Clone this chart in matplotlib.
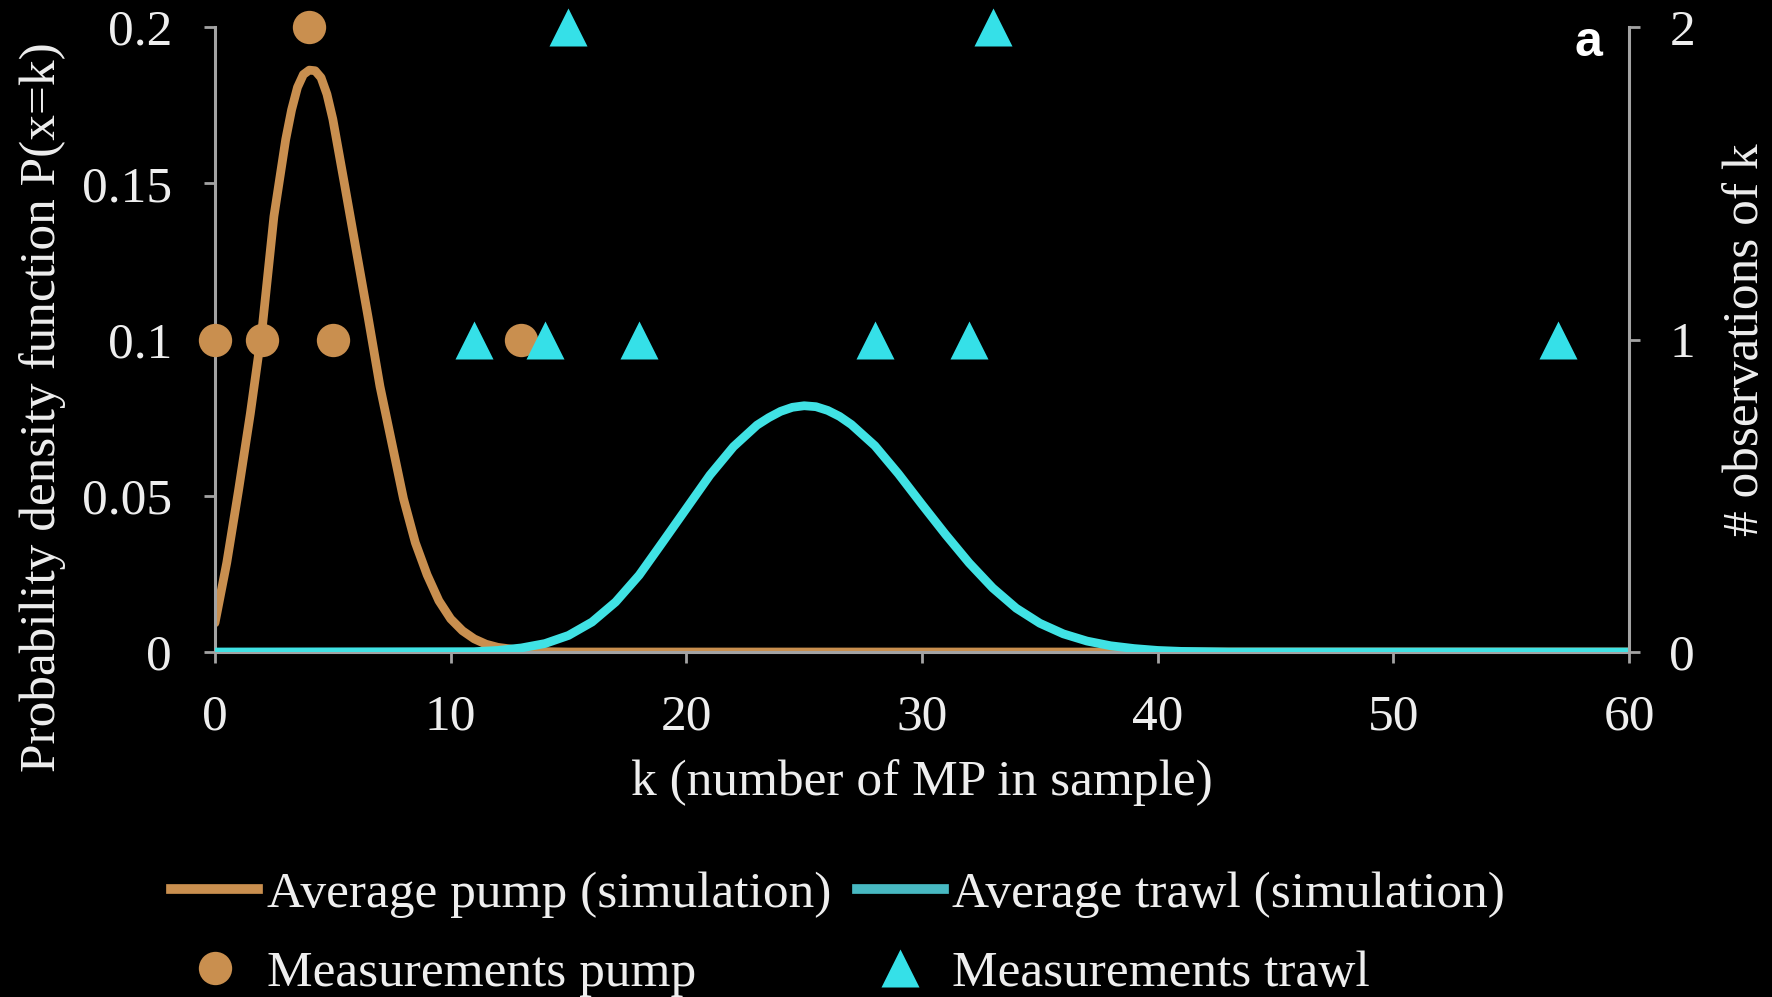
import matplotlib
matplotlib.use("Agg")
import matplotlib.pyplot as plt
from matplotlib.lines import Line2D

# ---- data ----
pump_k = [0, 0.5, 1, 1.5, 2, 2.5, 3, 3.25, 3.5, 3.75, 4, 4.25, 4.5, 4.75, 5, 5.5,
          6, 6.5, 7, 7.5, 8, 8.5, 9, 9.5, 10, 10.5, 11, 11.5, 12, 13, 14, 15, 60]
pump_p = [0.0093, 0.0286, 0.0518, 0.0763, 0.1034, 0.1394, 0.1640, 0.1735, 0.1807,
          0.1848, 0.1862, 0.1860, 0.1838, 0.1785, 0.1705, 0.1495, 0.1282, 0.1070,
          0.0850, 0.0670, 0.0490, 0.0350, 0.0247, 0.0164, 0.0106, 0.0068, 0.0042,
          0.0025, 0.0015, 0.0005, 0.0001, 0.0, 0.0]

trawl_k = [0, 11, 12, 13, 14, 15, 16, 17, 18, 19, 20, 21, 22, 23, 23.5, 24, 24.5,
           25, 25.5, 26, 26.5, 27, 28, 29, 30, 31, 32, 33, 34, 35, 36, 37, 38, 39,
           40, 41, 42, 43, 60]
trawl_p = [0.0, 0.0001, 0.0005, 0.0013, 0.0027, 0.0053, 0.0096, 0.0160, 0.0246,
           0.0352, 0.0459, 0.0566, 0.0657, 0.0726, 0.0750, 0.0770, 0.0783, 0.0788,
           0.0785, 0.0773, 0.0754, 0.0728, 0.0660, 0.0570, 0.0472, 0.0376, 0.0285,
           0.0205, 0.0140, 0.0092, 0.0058, 0.0035, 0.0020, 0.0011, 0.0005, 0.0002,
           0.0001, 0.0, 0.0]

pump_meas_k = [0, 2, 4, 5, 13]
pump_meas_n = [1, 1, 2, 1, 1]
trawl_meas_k = [11, 14, 15, 18, 28, 32, 33, 57]
trawl_meas_n = [1, 1, 2, 1, 1, 1, 2, 1]

x_ticks = [0, 10, 20, 30, 40, 50, 60]
y_ticks = [0, 0.05, 0.1, 0.15, 0.2]
y_tick_labels = ["0", "0.05", "0.1", "0.15", "0.2"]
y2_ticks = [0, 1, 2]

# ---- style ----
BROWN = "#C98F4F"
CYAN = "#40E2E4"
CYAN_TRI = "#35E0E8"
CYAN_LEG = "#48B9C2"
GREY = "#A3A3A3"
TXT = "#EEEEEE"
FS = 37

plt.rcParams["font.family"] = ["Liberation Serif", "DejaVu Serif"]

W, H = 1772, 997
fig = plt.figure(figsize=(W / 100, H / 100), dpi=100, facecolor="black")
ax = fig.add_axes([215 / W, 1 - 652 / H, 1414 / W, 625 / H])
ax.set_facecolor("black")
ax2 = ax.twinx()

ax.plot(pump_k, pump_p, color=BROWN, lw=6.3, solid_capstyle="round",
        solid_joinstyle="round", zorder=2)
ax.plot(trawl_k, trawl_p, color=CYAN, lw=6.3, solid_capstyle="round",
        solid_joinstyle="round", zorder=3)

ax2.plot(pump_meas_k, pump_meas_n, ls="none", marker="o", ms=24, color=BROWN,
         mec="none", clip_on=False, zorder=5)
ax2.plot(trawl_meas_k, trawl_meas_n, ls="none", marker="^", ms=27, color=CYAN_TRI,
         mec="none", clip_on=False, zorder=5)

ax.set_xlim(0, 60)
ax.set_ylim(0, 0.2)
ax2.set_ylim(0, 2)

ax.set_xticks(x_ticks)
ax.set_yticks(y_ticks)
ax.set_yticklabels(y_tick_labels)
ax2.set_yticks(y2_ticks)

for a in (ax, ax2):
    for s in a.spines.values():
        s.set_visible(False)
        s.set_color(GREY)
        s.set_linewidth(2.2)
    a.tick_params(colors=GREY, labelcolor=TXT, labelsize=FS, length=8, width=2,
                  direction="out", pad=23)
ax.spines["left"].set_visible(True)
ax.spines["bottom"].set_visible(True)
ax2.spines["right"].set_visible(True)
ax.tick_params(axis="x", pad=22)
ax2.tick_params(axis="y", pad=21)

ax.set_xlabel("k (number of MP in sample)", fontsize=FS, color=TXT)
ax.xaxis.set_label_coords(0.5, (652 - 783) / 625)
ax.xaxis.label.set_va("center")
ax.set_ylabel("Probability density function P(x=k)", fontsize=FS, color=TXT)
ax.yaxis.set_label_coords((43 - 215) / 1414, (652 - 407) / 625)
ax.yaxis.label.set_va("center")
ax2.set_ylabel("# observations of k", fontsize=FS, color=TXT)
ax2.yaxis.set_label_coords((1746 - 215) / 1414, 0.5)
ax2.yaxis.label.set_va("center")

ax2.text(0.971, 0.974, "a", transform=ax2.transAxes, fontsize=36,
         fontweight="bold", family="Liberation Sans", color="white",
         ha="center", va="center")

handles = [
    Line2D([], [], color=BROWN, lw=7),
    Line2D([], [], ls="none", marker="o", ms=24, color=BROWN, mec="none"),
    Line2D([], [], color=CYAN_LEG, lw=7),
    Line2D([], [], ls="none", marker="^", ms=27, color=CYAN_TRI, mec="none"),
]
labels = ["Average pump (simulation)", "Measurements pump",
          "Average trawl (simulation)", "Measurements trawl"]
leg = fig.legend(handles, labels, ncol=2, loc="center",
                 bbox_to_anchor=(838 / W, 1 - 934 / H), frameon=False,
                 fontsize=FS, labelcolor=TXT, handlelength=1.7,
                 handletextpad=0.16, columnspacing=0.5, labelspacing=0.62,
                 borderpad=0.0)

fig.savefig("out.png", dpi=100, facecolor="black")
